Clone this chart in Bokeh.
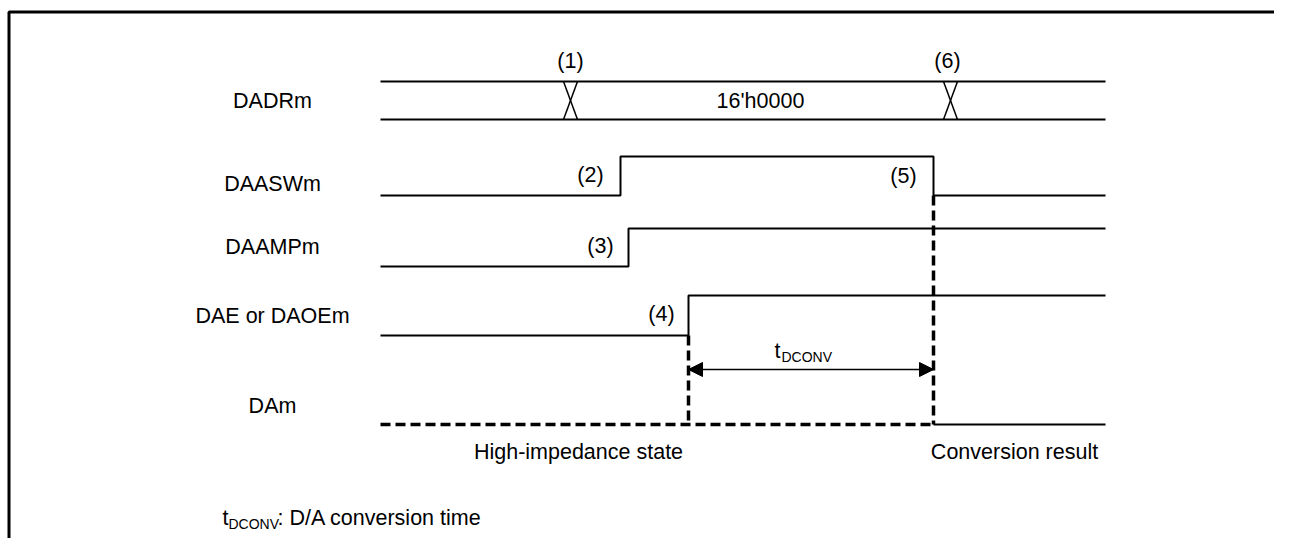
from bokeh.plotting import figure
from bokeh.models import Range1d, Arrow, NormalHead
from bokeh.core.properties import value
from bokeh.embed import file_html
from bokeh.resources import INLINE

W, H = 1274, 538
FONT = value("Liberation Sans")
FS = "21.5px"
FS_SUB = "14px"

# ---- data (time axis in diagram units, rows in diagram units) ----
signal_names = ["DADRm", "DAASWm", "DAAMPm", "DAE or DAOEm", "DAm"]
label_y = [100, 183, 246, 315, 405]
row_high = [81, 156, 228, 295, 424]
row_low = [119, 195, 266, 335, 424]
t_start, t_end = 380, 1105

bus_change_t = [570, 950]
bus_value = "16'h0000"
bus_value_t = 760

daaswm_t = [380, 620, 620, 933, 933, 1105]
daaswm_v = [0, 0, 1, 1, 0, 0]
daampm_t = [380, 628, 628, 1105]
daampm_v = [0, 0, 1, 1]
dae_t = [380, 688, 688, 1105]
dae_v = [0, 0, 1, 1]

event_labels = ["(1)", "(2)", "(3)", "(4)", "(5)", "(6)"]
event_x = [570, 590, 600, 661, 903, 947]
event_y = [60, 174, 245, 313, 175, 60]

t_conv_start, t_conv_end = 688, 933
t_conv_y = 369

p = figure(width=W, height=H, x_range=Range1d(0, W), y_range=Range1d(H, 0),
           output_backend="svg", toolbar_location=None, min_border=0,
           x_axis_type=None, y_axis_type=None)
p.grid.visible = False
p.outline_line_color = None
p.background_fill_color = "white"

# frame
p.line([8.5, 8.5, 1300], [600, 11.5, 11.5], line_color="black", line_width=3)

def lvl(i, v):
    return row_low[i] - v * (row_low[i] - row_high[i])

# DADRm bus
hw = 7
for y in (row_high[0], row_low[0]):
    p.line([t_start, t_end], [y, y], line_color="black", line_width=2)
for c in bus_change_t:
    p.line([c - hw, c + hw], [row_high[0], row_low[0]], line_color="black", line_width=1.5)
    p.line([c + hw, c - hw], [row_high[0], row_low[0]], line_color="black", line_width=1.5)

# digital waveforms
for i, (tt, vv) in enumerate([(daaswm_t, daaswm_v), (daampm_t, daampm_v), (dae_t, dae_v)], start=1):
    p.line(tt, [lvl(i, v) for v in vv], line_color="black", line_width=2)

# DAm
p.line([t_start, t_conv_end], [row_low[4], row_low[4]], line_color="black", line_width=3.5, line_dash="10 5")
p.line([t_conv_end, t_end], [row_low[4], row_low[4]], line_color="black", line_width=2)
p.line([t_conv_start, t_conv_start], [row_low[3], row_low[4]], line_color="black", line_width=3.5, line_dash="10 5")
p.line([t_conv_end, t_conv_end], [row_low[1], row_low[4]], line_color="black", line_width=3.5, line_dash="10 5")

# tDCONV arrow
p.add_layout(Arrow(x_start=t_conv_start, y_start=t_conv_y, x_end=t_conv_end, y_end=t_conv_y,
                   line_width=1.5, line_color="black",
                   start=NormalHead(size=14, fill_color="black", line_color="black"),
                   end=NormalHead(size=14, fill_color="black", line_color="black")))

# texts
p.text(x=[272] * len(signal_names), y=label_y, text=signal_names, text_font=FONT, text_font_size=FS,
       text_align="center", text_baseline="middle", text_color="black")
p.text(x=event_x, y=event_y, text=event_labels, text_font=FONT, text_font_size=FS,
       text_align="center", text_baseline="middle", text_color="black")
p.text(x=[bus_value_t], y=[100], text=[bus_value], text_font=FONT, text_font_size=FS,
       text_align="center", text_baseline="middle", text_color="black")
p.text(x=[777], y=[350], text=["t"], text_font=FONT, text_font_size=FS,
       text_align="center", text_baseline="middle", text_color="black")
p.text(x=[781], y=[356], text=["DCONV"], text_font=FONT, text_font_size=FS_SUB,
       text_align="left", text_baseline="middle", text_color="black")
p.text(x=[578], y=[451], text=["High-impedance state"], text_font=FONT, text_font_size=FS,
       text_align="center", text_baseline="middle", text_color="black")
p.text(x=[1014], y=[451], text=["Conversion result"], text_font=FONT, text_font_size=FS,
       text_align="center", text_baseline="middle", text_color="black")

# footnote
p.text(x=[222], y=[517], text=["t"], text_font=FONT, text_font_size=FS,
       text_align="left", text_baseline="middle", text_color="black")
p.text(x=[228], y=[523], text=["DCONV"], text_font=FONT, text_font_size=FS_SUB,
       text_align="left", text_baseline="middle", text_color="black")
p.text(x=[277], y=[517], text=[": D/A conversion time"], text_font=FONT, text_font_size=FS,
       text_align="left", text_baseline="middle", text_color="black")

open("out.html", "w").write(file_html(p, INLINE))
